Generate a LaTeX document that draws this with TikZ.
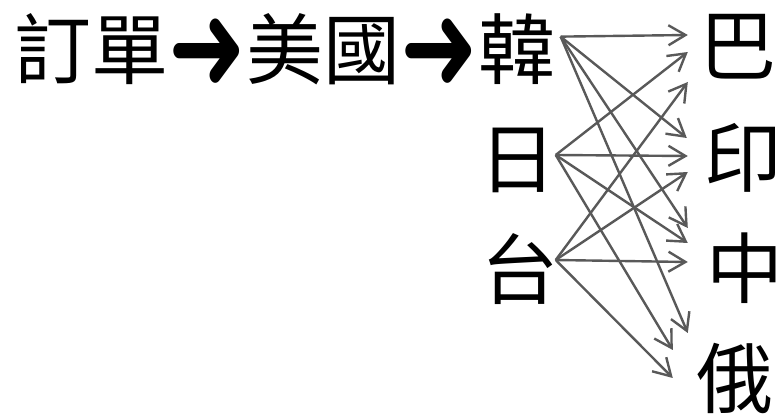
\documentclass[tikz,border=0pt]{standalone}
\usepackage{fontspec}
\newfontfamily\cjk{Noto Sans CJK TC}
\newfontfamily\sym{DejaVu Sans}
\usetikzlibrary{arrows.meta,positioning}
\definecolor{linkgray}{HTML}{595959}
\newcommand\chainarrow{\raisebox{-12pt}{\scalebox{1}[1.35]{\sym\fontsize{93}{93}\selectfont ➜}}}

\begin{document}
\begin{tikzpicture}[x=1pt,y=1pt,
    word/.style={inner sep=0pt, font=\cjk\fontsize{77}{77}\selectfont},
    link/.style={draw=linkgray, line width=2.4pt,
      -{Straight Barb[length=17pt,width=20pt]}}
    ]
    \useasboundingbox (0,0) rectangle (782,415);
    % chain on top
    \node[word, anchor=base west] (order) at (14,336) {訂單\chainarrow 美國\chainarrow};
    \node[word, anchor=base west] (han) at (order.base east) {韓};
    % sources
    \node[word] (ri) at (518,255) {日};
    \node[word] (tai) at (520,146) {台};
    % targets
    \node[word] (ba) at (738,368) {巴};
    \node[word] (yin) at (743,257) {印};
    \node[word] (zhong) at (745,147) {中};
    \node[word] (e) at (735,37) {俄};
    \coordinate (han out) at ([xshift=5pt,yshift=13pt]han.east);
    \coordinate (ri out) at ([xshift=-1pt,yshift=5pt]ri.east);
    \coordinate (tai out) at ([xshift=-3pt,yshift=9pt]tai.east);
    \foreach \s/\t/\dx/\dy in {han/ba/-11.5/12, ri/ba/-11.5/-5, tai/ba/-11.5/-35,
        han/yin/-17.5/20, ri/yin/-16.5/2, tai/yin/-16.5/-14,
        han/zhong/-18.5/40, ri/zhong/-18.5/25, tai/zhong/-18.5/6,
        han/e/-8.5/45, ri/e/-23.5/28, tai/e/-23.5/0}
      \draw[link] (\s\space out) -- ([xshift=\dx pt,yshift=\dy pt]\t.west);
\end{tikzpicture}
\end{document}
